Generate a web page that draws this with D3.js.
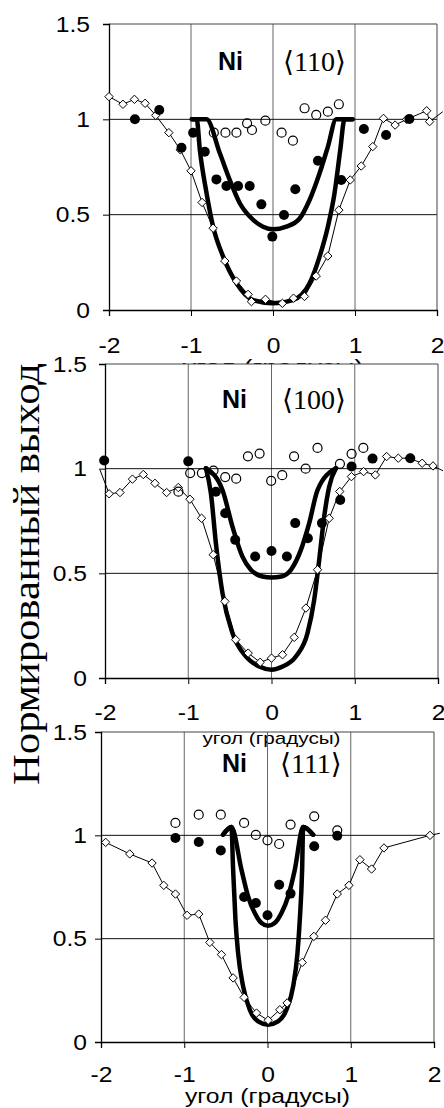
<!DOCTYPE html>
<html><head><meta charset="utf-8">
<script src="https://cdnjs.cloudflare.com/ajax/libs/d3/7.8.5/d3.min.js"></script>
<style>body{margin:0;background:#fff}svg{display:block}</style>
</head><body>
<script>
// ---------- DATA ----------
const xTicks = [-2, -1, 0, 1, 2];
const yTicks = [0, 0.5, 1, 1.5];
const xTitle = "угол (градусы)";
const yTitle = "Нормированный выход";
const element = "Ni";
const directions = ["⟨110⟩", "⟨100⟩", "⟨111⟩"];

// <110>
const d110X = [-2.0,-1.83,-1.69,-1.56,-1.43,-1.27,-1.13,-1.0,-0.865,-0.73,-0.588,-0.446,-0.304,-0.263,-0.092,0.114,0.25,0.384,0.527,0.668,0.803,0.942,1.076,1.217,1.347,1.489,1.63,1.874,1.91,2.07];
const d110Y = [1.119,1.079,1.105,1.084,1.021,0.930,0.84,0.73,0.564,0.429,0.257,0.152,0.082,0.044,0.056,0.035,0.062,0.071,0.178,0.283,0.524,0.682,0.755,0.857,1.005,0.970,1.0,1.045,0.988,1.04];
const f110X = [-1.684,-1.387,-1.116,-0.974,-0.832,-0.690,-0.568,-0.426,-0.284,-0.142,-0.008,0.134,0.272,0.548,0.832,1.108,1.379,1.663];
const f110Y = [1.0,1.049,0.851,0.930,0.830,0.685,0.650,0.650,0.650,0.554,0.385,0.498,0.633,0.783,0.682,0.949,0.918,1.002];
const o110X = [-0.722,-0.580,-0.446,-0.316,-0.256,-0.093,0.105,0.243,0.385,0.527,0.669,0.803];
const o110Y = [0.930,0.930,0.930,0.979,0.944,0.993,0.930,0.888,1.058,1.023,1.040,1.079];
const outer110X = [-0.99,-0.93,-0.892,-0.81,-0.73,-0.608,-0.445,-0.243,0,0.243,0.446,0.568,0.669,0.75,0.82,0.872,0.97];
const outer110Y = [1.0,1.0,0.839,0.612,0.437,0.28,0.14,0.052,0.035,0.052,0.14,0.28,0.437,0.612,0.839,1.0,1.0];
const inner110X = [-0.99,-0.81,-0.648,-0.527,-0.405,-0.283,-0.122,0,0.163,0.325,0.446,0.568,0.669,0.771,0.97];
const inner110Y = [1.0,1.0,0.822,0.682,0.56,0.49,0.437,0.423,0.437,0.48,0.577,0.717,0.856,1.0,1.0];

// <100>
const d100X = [-2.06,-1.95,-1.82,-1.67,-1.54,-1.40,-1.26,-1.12,-0.98,-0.84,-0.70,-0.56,-0.43,-0.28,-0.136,0.0,0.132,0.273,0.413,0.553,0.693,0.82,0.96,1.106,1.247,1.383,1.523,1.655,1.81,1.94,2.06];
const d100Y = [0.994,0.88,0.886,0.95,0.972,0.93,0.886,0.91,0.854,0.763,0.589,0.366,0.183,0.119,0.075,0.095,0.111,0.194,0.334,0.517,0.763,0.891,0.962,0.986,0.970,1.058,1.05,1.05,1.026,1.013,0.99];
const f100X = [-2.01,-1.0,-0.668,-0.556,-0.436,-0.196,0.0,0.185,0.285,0.437,0.606,0.826,0.962,1.214,1.667];
const f100Y = [1.039,1.035,0.89,0.787,0.66,0.58,0.607,0.58,0.74,0.668,0.74,0.85,1.01,1.048,1.05];
const o100X = [-1.118,-0.977,-0.836,-0.697,-0.556,-0.424,-0.283,-0.143,-0.004,0.129,0.271,0.41,0.553,0.822,0.962,1.103];
const o100Y = [0.89,0.979,0.979,0.991,0.96,0.952,1.059,1.072,0.942,0.969,1.059,1.0,1.099,1.023,1.071,1.099];
const outer100X = [-0.788,-0.728,-0.668,-0.589,-0.469,-0.308,-0.148,0,0.133,0.293,0.433,0.513,0.573,0.633,0.693,0.774];
const outer100Y = [1.002,0.883,0.644,0.406,0.215,0.103,0.055,0.04,0.055,0.103,0.215,0.374,0.564,0.771,0.914,1.002];
const inner100X = [-0.788,-0.589,-0.469,-0.349,-0.248,-0.108,0,0.12,0.233,0.353,0.453,0.553,0.774];
const inner100Y = [1.002,0.898,0.723,0.58,0.517,0.485,0.48,0.485,0.517,0.612,0.74,0.898,1.002];

// <111>
const d111X = [-1.944,-1.655,-1.387,-1.246,-1.106,-0.966,-0.826,-0.693,-0.553,-0.413,-0.281,-0.132,0.008,0.148,0.236,0.417,0.557,0.697,0.838,0.978,1.11,1.25,1.399,1.952,2.07];
const d111Y = [0.966,0.910,0.866,0.758,0.716,0.613,0.619,0.482,0.423,0.310,0.216,0.140,0.105,0.156,0.189,0.385,0.511,0.589,0.716,0.758,0.882,0.837,0.939,1.0,1.01];
const f111X = [-1.106,-0.826,-0.561,-0.281,-0.140,0.0,0.140,0.277,0.561,0.838];
const f111Y = [0.987,0.968,0.927,0.702,0.673,0.613,0.761,0.718,0.947,0.998];
const o111X = [-1.106,-0.826,-0.561,-0.281,-0.14,0,0.14,0.277,0.561,0.838];
const o111Y = [1.06,1.10,1.10,1.06,1.002,0.976,0.958,1.052,1.092,1.024];
const outer111X = [-0.534,-0.433,-0.413,-0.385,-0.353,-0.293,-0.213,-0.113,0.007,0.127,0.228,0.308,0.36,0.388,0.416,0.428,0.548];
const outer111Y = [1.003,1.04,0.834,0.592,0.43,0.269,0.156,0.1,0.084,0.1,0.156,0.269,0.43,0.592,0.834,1.04,1.003];
const inner111X = [-0.534,-0.433,-0.313,-0.233,-0.153,-0.072,0.007,0.087,0.168,0.248,0.328,0.428,0.548];
const inner111Y = [1.003,1.04,0.834,0.704,0.624,0.576,0.563,0.576,0.624,0.704,0.834,1.04,1.003];

// ---------- LAYOUT ----------
const zip = (xs, ys) => xs.map((x, i) => [x, ys[i]]);
const panels = [
  {dir: directions[0], L:109, R:437, B:310, T:24, bg:false,
   dia: zip(d110X,d110Y), fil: zip(f110X,f110Y), opn: zip(o110X,o110Y),
   curves: [zip(outer110X,outer110Y), zip(inner110X,inner110Y)],
   xPad:21, yPad:13, tFs:22, tY:375, tLen:181, niX:218, niY:70, dirX:283},
  {dir: directions[1], L:105, R:438, B:678, T:364, bg:true,
   dia: zip(d100X,d100Y), fil: zip(f100X,f100Y), opn: zip(o100X,o100Y),
   curves: [zip(outer100X,outer100Y), zip(inner100X,inner100Y)],
   xPad:20, yPad:12, tFs:17, tY:744, tLen:138, niX:222, niY:408, dirX:282},
  {dir: directions[2], L:101, R:434, B:1042, T:732, bg:false,
   dia: zip(d111X,d111Y), fil: zip(f111X,f111Y), opn: zip(o111X,o111Y),
   curves: [zip(outer111X,outer111Y), zip(inner111X,inner111Y)],
   xPad:18, yPad:8, tFs:20, tY:1103, tLen:165, niX:222, niY:772, dirX:280}
];

const svg = d3.select("body").append("svg").attr("width", 444).attr("height", 1108);
const SANS = "'Liberation Sans', Arial, sans-serif";
const SERIF = "'Liberation Serif', 'DejaVu Serif', 'Times New Roman', serif";

panels.forEach(p => {
  const g = svg.append("g");
  const x = d3.scaleLinear().domain([-2, 2]).range([p.L, p.R]);
  const y = d3.scaleLinear().domain([0, 1.5]).range([p.B, p.T]);

  if (p.bg) g.append("rect").attr("x", p.L).attr("y", p.T).attr("width", p.R - p.L).attr("height", p.B - p.T).attr("fill", "#fff");

  // grid
  g.append("g").selectAll("line").data([-1, 0, 1]).join("line")
    .attr("x1", d => x(d)).attr("x2", d => x(d)).attr("y1", p.T).attr("y2", p.B)
    .attr("stroke", "#666").attr("stroke-width", 1);
  g.append("g").selectAll("line").data([0.5, 1]).join("line")
    .attr("x1", p.L).attr("x2", p.R).attr("y1", d => y(d)).attr("y2", d => y(d))
    .attr("stroke", "#111").attr("stroke-width", 1);
  g.append("path").attr("d", `M${p.L},${p.T}H${p.R}V${p.B}`).attr("fill", "none").attr("stroke", "#444").attr("stroke-width", 1);

  // axes
  const ax = g.append("g").attr("transform", `translate(0,${p.B})`)
    .call(d3.axisBottom(x).tickValues(xTicks).tickSize(6).tickPadding(p.xPad).tickFormat(d3.format("d")));
  const ay = g.append("g").attr("transform", `translate(${p.L},0)`)
    .call(d3.axisLeft(y).tickValues(yTicks).tickSize(6).tickPadding(p.yPad).tickFormat(d => d));
  [ax, ay].forEach(a => {
    a.select(".domain").attr("stroke", "#000").attr("stroke-width", 1.3);
    a.selectAll(".tick line").attr("stroke", "#000");
    a.selectAll("text").attr("font-family", SANS).attr("font-size", 22).attr("fill", "#000");
  });
  ax.selectAll("text").text(d => d < 0 ? "-" + Math.abs(d) : d);
  [ax, ay].forEach(a => a.selectAll("text").each(function () {
    const w = this.getComputedTextLength();
    d3.select(this).attr("textLength", w * 1.12).attr("lengthAdjust", "spacingAndGlyphs");
  }));

  // thick curves
  const line = d3.line().x(d => x(d[0])).y(d => y(d[1])).curve(d3.curveMonotoneX);
  p.curves.forEach(c => g.append("path").attr("d", line(c)).attr("fill", "none")
    .attr("stroke", "#000").attr("stroke-width", 4.5).attr("stroke-linejoin", "round").attr("stroke-linecap", "round"));

  // thin diamond line
  const thin = d3.line().x(d => x(d[0])).y(d => y(d[1]));
  g.append("path").attr("d", thin(p.dia)).attr("fill", "none").attr("stroke", "#000").attr("stroke-width", 1);
  g.append("g").selectAll("path").data(p.dia.filter(d => d[0] >= -2.01 && d[0] <= 2.01)).join("path")
    .attr("d", "M0,-4.2L4.2,0L0,4.2L-4.2,0Z")
    .attr("transform", d => `translate(${x(d[0])},${y(d[1])})`)
    .attr("fill", "#fff").attr("stroke", "#000").attr("stroke-width", 1);

  // filled circles
  g.append("g").selectAll("circle").data(p.fil).join("circle")
    .attr("cx", d => x(d[0])).attr("cy", d => y(d[1])).attr("r", 5).attr("fill", "#000");
  // open circles
  g.append("g").selectAll("circle").data(p.opn).join("circle")
    .attr("cx", d => x(d[0])).attr("cy", d => y(d[1])).attr("r", 4.5)
    .attr("fill", "none").attr("stroke", "#000").attr("stroke-width", 1.2);

  // labels
  g.append("text").attr("x", p.niX).attr("y", p.niY).text(element)
    .attr("font-family", SANS).attr("font-weight", "bold").attr("font-size", 25);
  g.append("text").attr("x", p.dirX).attr("y", p.niY + 1).text(p.dir)
    .attr("font-family", SERIF).attr("font-size", 28);

  // x title
  g.append("text").attr("x", (p.L + p.R) / 2).attr("y", p.tY).attr("text-anchor", "middle")
    .attr("font-family", SANS).attr("font-size", p.tFs)
    .attr("textLength", p.tLen).attr("lengthAdjust", "spacingAndGlyphs").text(xTitle);
});

// y title
svg.append("text").attr("transform", "translate(39,574) rotate(-90)").attr("text-anchor", "middle")
  .attr("font-family", SERIF).attr("font-size", 38)
  .attr("textLength", 422).attr("lengthAdjust", "spacingAndGlyphs").text(yTitle);
</script>
</body></html>
